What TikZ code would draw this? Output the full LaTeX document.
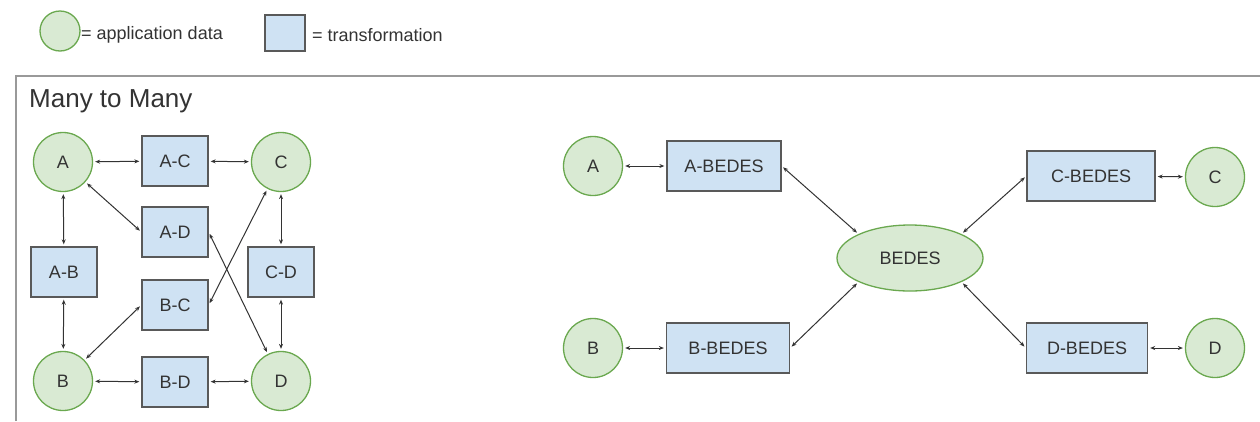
\documentclass[tikz,border=0pt]{standalone}
\usepackage{fontspec}
\setmainfont{Liberation Sans}
\usetikzlibrary{arrows.meta,shapes.geometric}

\definecolor{appfill}{HTML}{D9EAD3}
\definecolor{appline}{HTML}{6AA84F}
\definecolor{xfill}{HTML}{CFE2F3}
\definecolor{xline}{HTML}{595959}
\definecolor{ink}{HTML}{333333}

\begin{document}
\begin{tikzpicture}[x=1pt, y=-1pt, >={Stealth[length=5pt,width=4pt]},
  every node/.style={text=ink, font=\fontsize{18}{21}\selectfont},
  app/.style={circle, draw=appline, fill=appfill, line width=1.3pt, minimum size=59pt, inner sep=0pt},
  xform/.style={rectangle, draw=xline, fill=xfill, line width=1.3pt, minimum height=50pt, minimum width=66pt, inner sep=0pt},
  link/.style={<->, draw=ink, line width=1pt, shorten <=2pt, shorten >=2pt}]

\useasboundingbox (0,0) rectangle (1260,421);

% legend
\node [app, minimum size=40pt] (key-app) at (60,31) {};
\node [anchor=west, inner sep=0pt] (key-app-text) at (81,35) {= application data};
\node [xform, minimum width=40pt, minimum height=36pt] (key-x) at (285,33) {};
\node [anchor=west, inner sep=0pt] (key-x-text) at (312,35) {= transformation};

% frame
\draw [draw=gray!80, line width=1.4pt] (16,421) -- (16,76) -- (1260,76);
\node [anchor=west, inner sep=0pt, font=\fontsize{26}{30}\selectfont] (title) at (29,101) {Many to Many};

% many to many
\foreach \n/\x/\y in {A/63/162, C/281/162, B/63/381, D/281/381}
  \node [app] (many-\n) at (\x,\y) {\n};

\foreach \a/\b/\x/\y in {A/C/175/161, A/D/175/232, B/C/175/305, B/D/175/382, A/B/64/272, C/D/281/272}
  \node [xform] (many-\a\b) at (\x,\y) {\a-\b};

\foreach \s/\t in {many-A/many-AC, many-AC/many-C, many-A/many-AD.west, many-AD.east/many-D,
                   many-A/many-AB, many-AB/many-B, many-B/many-BC.west, many-BC.east/many-C,
                   many-C/many-CD, many-CD/many-D, many-B/many-BD, many-BD/many-D}
  \draw [link] (\s) -- (\t);

% hub
\node [ellipse, draw=appline, fill=appfill, line width=1.3pt, minimum width=146pt, minimum height=66pt] (hub) at (910,258) {BEDES};

\foreach \n/\x/\y in {A/593/166, B/593/348, C/1215/177, D/1215/348}
  \node [app] (hub-\n) at (\x,\y) {\n};

\foreach \n/\x/\y/\w in {A/724/166/114, B/728/348/123, C/1091/176/128, D/1087/348/121}
  \node [xform, minimum width=\w pt] (hub-\n-x) at (\x,\y) {\n-BEDES};

\foreach \n/\e/\a in {A/east/155, B/east/205, C/west/25, D/west/335} {
  \draw [link] (hub-\n) -- (hub-\n-x);
  \draw [link] (hub-\n-x.\e) -- (hub.\a);
}

\end{tikzpicture}
\end{document}
